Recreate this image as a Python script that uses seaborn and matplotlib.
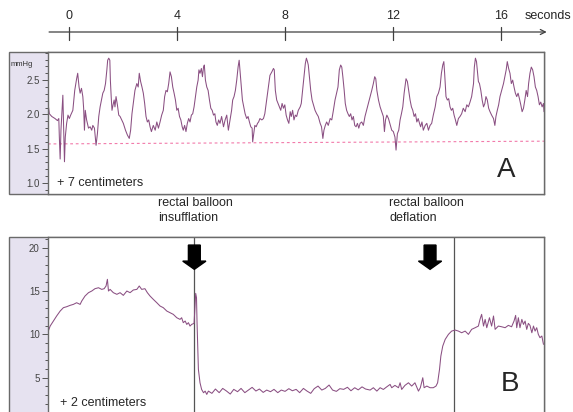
import matplotlib
matplotlib.use("Agg")
import matplotlib.pyplot as plt
import seaborn as sns
from matplotlib.patches import Rectangle, FancyArrow
from matplotlib.ticker import MultipleLocator, FormatStrFormatter

# ---------------- data ----------------
# Panel A: pressure at +7 cm (mmHg) vs time (s)
a_time = [-0.80, -0.73, -0.64, -0.52, -0.43, -0.38, -0.36, -0.33, -0.30, -0.26, -0.23, -0.21, -0.17, -0.14,
          -0.09, -0.04, 0.01, 0.06, 0.14, 0.21, 0.28, 0.32, 0.37, 0.41, 0.46, 0.51, 0.54, 0.57, 0.60, 0.65,
          0.72, 0.78, 0.84, 0.88, 0.94, 0.98, 1.00, 1.05, 1.10, 1.15, 1.20, 1.25, 1.30, 1.35, 1.40, 1.43,
          1.47, 1.51, 1.53, 1.56, 1.59, 1.63, 1.67, 1.70, 1.74, 1.79, 1.84, 1.89, 1.95, 2.01, 2.09, 2.16,
          2.23, 2.28, 2.33, 2.38, 2.44, 2.51, 2.56, 2.60, 2.65, 2.70, 2.75, 2.80, 2.85, 2.90, 2.95, 3.00,
          3.05, 3.12, 3.19, 3.25, 3.31, 3.37, 3.43, 3.49, 3.54, 3.59, 3.64, 3.69, 3.74, 3.79, 3.84, 3.89,
          3.94, 3.99, 4.04, 4.09, 4.14, 4.19, 4.23, 4.28, 4.33, 4.38, 4.43, 4.48, 4.53, 4.58, 4.63, 4.68,
          4.73, 4.78, 4.81, 4.85, 4.90, 4.94, 4.98, 5.01, 5.05, 5.10, 5.15, 5.20, 5.25, 5.30, 5.35, 5.40,
          5.44, 5.49, 5.54, 5.59,
          5.65, 5.72, 5.78, 5.84, 5.90, 5.96, 6.02, 6.06, 6.11, 6.16, 6.21, 6.26, 6.30, 6.33, 6.37, 6.42,
          6.47, 6.52, 6.58, 6.63, 6.68, 6.73, 6.78, 6.80, 6.84, 6.88, 6.93, 6.98, 7.02, 7.07, 7.14, 7.20,
          7.25, 7.30, 7.35, 7.40, 7.44, 7.51, 7.57, 7.60, 7.64, 7.69, 7.74, 7.79, 7.84, 7.89, 7.94, 7.99,
          8.04, 8.09, 8.14, 8.19, 8.23, 8.28, 8.33, 8.38, 8.43, 8.49, 8.56, 8.60, 8.65, 8.70, 8.75, 8.79,
          8.83, 8.86, 8.90, 8.95, 9.00, 9.05, 9.11, 9.17, 9.23, 9.30, 9.35, 9.40, 9.44, 9.49, 9.54, 9.60,
          9.67, 9.73, 9.79, 9.85, 9.91, 9.96, 10.01, 10.06, 10.10, 10.14, 10.19, 10.23, 10.28, 10.33, 10.38,
          10.43, 10.48, 10.53, 10.58, 10.63, 10.68, 10.73, 10.78, 10.84, 10.90, 10.96, 11.02, 11.09, 11.15,
          11.21, 11.27, 11.32, 11.36, 11.40, 11.46, 11.52, 11.58, 11.64, 11.68, 11.72, 11.77, 11.83,
          11.95, 12.01, 12.07, 12.11, 12.16, 12.21, 12.26, 12.31, 12.36, 12.41, 12.44, 12.48, 12.53, 12.58,
          12.63, 12.68, 12.73, 12.78, 12.83, 12.88, 12.93, 12.98, 13.02, 13.07, 13.12, 13.19, 13.25, 13.31,
          13.37, 13.43, 13.49, 13.56, 13.62, 13.68, 13.74, 13.79, 13.84, 13.88, 13.91, 13.96, 14.01, 14.06,
          14.11, 14.16, 14.21, 14.26, 14.31, 14.36, 14.42, 14.48, 14.54, 14.60, 14.67, 14.73, 14.79, 14.85,
          14.91, 14.98, 15.01, 15.05, 15.09, 15.12, 15.16, 15.20, 15.25, 15.30, 15.35, 15.40, 15.44, 15.49,
          15.54, 15.59, 15.65, 15.72, 15.77, 15.81, 15.86, 15.91, 15.96, 16.02, 16.09, 16.14, 16.19, 16.23,
          16.28, 16.33, 16.38, 16.43, 16.48, 16.53, 16.58, 16.63, 16.68, 16.73, 16.78, 16.83, 16.88, 16.93,
          16.98, 17.02, 17.07, 17.12, 17.17, 17.22, 17.27, 17.32, 17.37, 17.42, 17.47, 17.52, 17.57, 17.59]
a_pressure = [2.23, 2.01, 1.97, 1.94, 1.91, 1.94, 1.67, 1.35, 1.77, 2.06, 2.28, 1.97, 1.31, 1.67,
              1.87, 1.99, 1.94, 1.99, 2.06, 2.35, 2.52, 2.60, 2.40, 2.31, 2.38, 2.26, 2.09, 1.77, 2.06, 1.92,
              1.80, 1.82, 1.77, 1.84, 1.80, 1.63, 1.55, 1.72, 1.97, 2.11, 2.21, 2.31, 2.35, 2.45, 2.65, 2.79,
              2.82, 2.79, 2.50, 2.26, 2.06, 2.14, 2.21, 2.11, 2.26, 2.14, 1.99, 1.97, 1.92, 1.87, 1.77, 1.70,
              1.65, 1.77, 2.01, 2.16, 2.35, 2.45, 2.40, 2.60, 2.48, 2.40, 2.31, 2.16, 1.97, 1.89, 1.92, 1.82,
              1.75, 1.84, 1.77, 1.89, 1.80, 1.89, 1.99, 2.06, 2.26, 2.35, 2.33, 2.45, 2.62, 2.55, 2.40, 2.31,
              2.21, 2.06, 2.09, 1.97, 1.92, 1.82, 1.77, 1.84, 1.75, 1.87, 1.94, 1.89, 1.99, 2.01, 2.11, 2.26,
              2.40, 2.50, 2.65, 2.60, 2.67, 2.55, 2.69, 2.72, 2.50, 2.40, 2.35, 2.21, 2.09, 2.06, 1.99, 2.01,
              1.89, 1.84, 1.92, 1.87,
              1.97, 1.82, 1.92, 1.99, 1.77, 1.92, 2.06, 2.21, 2.26, 2.35, 2.50, 2.69, 2.79, 2.65, 2.45, 2.21,
              2.11, 2.01, 1.94, 1.97, 1.89, 1.82, 1.80, 1.60, 1.72, 1.84, 1.82, 1.87, 1.89, 1.94, 1.92, 1.94,
              2.01, 2.16, 2.31, 2.45, 2.57, 2.62, 2.67, 2.65, 2.35, 2.21, 2.16, 2.11, 2.06, 2.16, 2.09, 2.14,
              1.99, 1.92, 1.87, 2.04, 1.97, 2.06, 1.92, 1.99, 1.97, 2.06, 2.11, 2.16, 2.35, 2.55, 2.74, 2.82,
              2.77, 2.72, 2.55, 2.35, 2.21, 2.14, 2.06, 2.01, 1.97, 1.87, 1.82, 1.65, 1.77, 1.84, 1.89, 1.84,
              1.94, 1.92, 2.06, 2.21, 2.31, 2.40, 2.65, 2.72, 2.69, 2.55, 2.35, 2.16, 2.06, 2.01, 1.97,
              2.01, 1.92, 1.97, 1.84, 1.82, 1.87, 1.80, 1.87, 1.89, 1.84, 1.97, 2.06, 2.16, 2.26,
              2.35, 2.45, 2.55, 2.52, 2.35, 2.21, 2.11, 2.04, 1.97, 1.75, 1.92, 1.99, 1.94,
              1.77, 1.75, 1.67, 1.48, 1.72, 1.77, 1.92, 2.01, 2.11, 2.31, 2.40, 2.52, 2.48, 2.35,
              2.21, 2.11, 2.06, 1.97, 2.01, 1.89, 1.94, 1.87, 1.82, 1.89, 1.77, 1.84, 1.87, 1.77,
              1.84, 1.87, 1.99, 2.11, 2.26, 2.31, 2.40, 2.60, 2.72, 2.77, 2.60, 2.26, 2.21, 2.23,
              2.11, 2.06, 2.09, 1.99, 1.92, 1.84, 1.94, 1.97, 2.01, 2.09, 2.04, 2.14, 2.11, 2.18,
              2.26, 2.45, 2.69, 2.82, 2.77, 2.65, 2.48, 2.45, 2.35, 2.21, 2.11, 2.16, 2.26, 2.21,
              2.09, 2.04, 1.99, 1.94, 1.84, 1.97, 2.06, 2.14, 2.26, 2.35, 2.45, 2.55, 2.65, 2.77,
              2.67, 2.60, 2.45, 2.50, 2.40, 2.31, 2.26, 2.31, 2.23, 2.14, 2.04, 2.09, 2.21, 2.35,
              2.26, 2.45, 2.60, 2.69, 2.65, 2.55, 2.40, 2.35, 2.26, 2.14, 2.18, 2.11, 2.16, 2.04]

# dashed baseline in panel A
base_time = [-0.78, 17.59]
base_level = [1.57, 1.61]

# Panel B: pressure at +2 cm (mmHg) vs time (s)
b_time = [-0.77, -0.70, -0.58, -0.46, -0.33, -0.21, -0.09, 0.04, 0.16, 0.28, 0.41, 0.47, 0.59, 0.72,
          0.84, 0.96, 1.09, 1.21, 1.30, 1.37, 1.42, 1.46, 1.52, 1.64, 1.77, 1.89, 2.01, 2.14, 2.26, 2.38,
          2.51, 2.60, 2.69, 2.81, 2.90, 3.00, 3.12, 3.25, 3.37, 3.49, 3.62, 3.74, 3.86, 3.99, 4.11, 4.17,
          4.23, 4.30, 4.36, 4.42, 4.48, 4.54, 4.63, 4.67, 4.69, 4.72, 4.74, 4.77, 4.79, 4.85, 4.91, 4.98,
          5.04, 5.10, 5.16, 5.29, 5.42, 5.56, 5.69, 5.83, 5.97, 6.10, 6.24, 6.37, 6.51, 6.64, 6.78, 6.92,
          7.05, 7.19, 7.32, 7.46, 7.59, 7.73, 7.86, 8.00, 8.14, 8.27, 8.41, 8.54, 8.68, 8.81, 8.95, 9.08,
          9.22, 9.36, 9.49, 9.63, 9.76, 9.90, 10.03, 10.17, 10.31, 10.44, 10.58, 10.71, 10.85, 10.98,
          11.15, 11.27, 11.40, 11.52, 11.64, 11.77, 11.89, 11.95, 12.07, 12.20, 12.26, 12.32, 12.44, 12.57,
          12.69, 12.81, 12.94, 13.01, 13.10, 13.15, 13.25, 13.37, 13.49, 13.59, 13.65, 13.72, 13.77, 13.84,
          13.93, 14.05, 14.17, 14.30, 14.42, 14.54, 14.67, 14.79, 14.91, 15.04, 15.16, 15.22, 15.28, 15.35,
          15.41, 15.47, 15.57, 15.65, 15.72, 15.78, 15.90, 16.02, 16.15, 16.27, 16.39, 16.48, 16.54, 16.58,
          16.64, 16.70, 16.77, 16.83, 16.89, 16.95, 17.01, 17.07, 17.14, 17.20, 17.26, 17.32, 17.38, 17.44,
          17.51, 17.57]
b_pressure = [10.38, 10.96, 11.54, 12.12, 12.69, 13.08, 13.19, 13.35, 13.46, 13.65, 13.46, 13.85, 14.42, 14.81,
              15.00, 15.27, 15.38, 15.19, 15.27, 15.58, 16.35, 15.00, 15.19, 14.81, 14.62, 14.81, 14.50, 15.00, 14.81, 15.12,
              15.19, 15.58, 15.19, 15.27, 14.81, 14.42, 14.04, 13.65, 13.27, 13.08, 12.69, 12.50, 12.31, 11.92, 11.73, 11.92,
              11.35, 11.54, 11.15, 11.35, 10.96, 11.15, 11.27, 13.65, 14.73, 14.23, 11.35, 8.27, 5.96, 4.42, 3.65, 3.27,
              3.46, 3.08, 3.46, 3.20, 3.70, 3.28, 3.77, 3.47, 3.12, 3.66, 3.39, 3.77, 3.28, 3.58, 3.89, 3.47,
              3.70, 3.31, 3.58, 3.39, 3.66, 3.28, 3.58, 3.43, 3.74, 3.50, 3.66, 3.28, 3.77, 3.47, 3.20, 3.74,
              4.04, 3.58, 3.77, 4.16, 3.58, 3.43, 3.74, 3.66, 3.90, 3.50, 3.85, 3.60, 3.95, 3.70,
              3.58, 3.85, 3.46, 3.85, 3.65, 3.96, 4.23, 3.85, 4.12, 3.85, 4.42, 3.65, 4.12, 4.42,
              4.04, 4.42, 3.46, 3.85, 5.00, 3.85, 4.04, 3.85, 3.85, 4.04, 4.42, 5.96, 7.50, 8.65,
              9.42, 10.00, 10.38, 10.50, 10.38, 10.19, 10.38, 10.00, 10.58, 10.77, 10.96, 11.73, 12.31, 10.96,
              11.73, 10.77, 11.92, 10.96, 12.12, 10.58, 10.96, 10.88, 10.77, 11.04, 10.88, 11.54, 12.19, 10.77,
              11.92, 10.77, 11.73, 11.15, 11.54, 10.58, 11.27, 11.04, 10.19, 10.96, 10.38, 10.77, 10.00, 9.62,
              9.81, 8.85]

# events
event_lines = [4.63, 14.26]          # vertical markers in panel B
arrow_times = [4.64, 13.37]          # black arrows in panel B
event_labels = ["rectal balloon\ninsufflation", "rectal balloon\ndeflation"]
sec_ticks = [0, 4, 8, 12, 16]
a_yticks = [1.0, 1.5, 2.0, 2.5]
b_yticks = [5, 10, 15, 20]

# ---------------- style ----------------
sns.set_style("white")
plt.rcParams["font.family"] = ["Liberation Sans", "DejaVu Sans"]

LAV = "#e6e2f0"
EDGE = "#6a6a6a"
TRACE = "#8a4f82"
PINK = "#f27aaa"
DARK = "#404040"

W, H = 573, 412
fig = plt.figure(figsize=(W / 100, H / 100), dpi=100)


def box(x0, y0, x1, y1):
    return [x0 / W, 1 - y1 / H, (x1 - x0) / W, (y1 - y0) / H]


# lavender frames
fig.add_artist(Rectangle((9 / W, 1 - 194 / H), (544 - 9) / W, (194 - 52) / H,
                         transform=fig.transFigure, facecolor=LAV, edgecolor=EDGE, lw=1.0, zorder=0))
fig.add_artist(Rectangle((9 / W, -0.05), (544 - 9) / W, (412 - 237) / H + 0.05,
                         transform=fig.transFigure, facecolor=LAV, edgecolor=EDGE, lw=1.0, zorder=0))

XL = (-0.78, 17.59)


def style_axis(ax, yticks, minor, fmt):
    ax.set_facecolor("white")
    ax.set_xlim(*XL)
    ax.set_xticks([])
    ax.set_xlabel("")
    ax.set_ylabel("")
    ax.set_yticks(yticks)
    ax.yaxis.set_minor_locator(MultipleLocator(minor))
    ax.yaxis.set_major_formatter(FormatStrFormatter(fmt))
    ax.tick_params(axis="y", which="both", left=True, direction="out", color="#555555", width=0.7)
    ax.tick_params(axis="y", which="major", length=4, labelsize=7, labelcolor="#444444", pad=2)
    ax.tick_params(axis="y", which="minor", length=2)
    for s in ax.spines.values():
        s.set_color(EDGE)
        s.set_linewidth(1.0)


# ----- Panel A -----
axA = fig.add_axes(box(48, 52, 544, 194))
axA.set_zorder(2)
axA.plot(base_time, base_level, color=PINK, lw=0.8, linestyle=(0, (2.5, 2.5)))
sns.lineplot(x=a_time, y=a_pressure, ax=axA, color=TRACE, lw=0.75, estimator=None, sort=False)
axA.set_ylim(0.84, 2.91)
style_axis(axA, a_yticks, 0.1, "%.1f")
axA.text(0.018, 0.077, "+ 7 centimeters", transform=axA.transAxes, ha="left", va="center", fontsize=9)
axA.text(0.905, 0.17, "A", transform=axA.transAxes, ha="left", va="center", fontsize=20)
fig.text(11 / W, 1 - 65 / H, "mmHg", fontsize=5.5, ha="left", va="center", color="#333333")

# ----- Panel B -----
axB = fig.add_axes(box(48, 237, 544, 412))
axB.set_zorder(2)
for t in event_lines:
    axB.axvline(t, color="#555555", lw=0.9)
sns.lineplot(x=b_time, y=b_pressure, ax=axB, color=TRACE, lw=0.75, estimator=None, sort=False)
axB.set_ylim(1.05, 21.23)
style_axis(axB, b_yticks, 1, "%d")
axB.spines["bottom"].set_visible(False)
for t in arrow_times:
    axB.add_patch(FancyArrow(t, 20.3, 0, -2.8, width=0.44, head_width=0.86, head_length=0.95,
                             length_includes_head=True, color="black", zorder=5))
axB.text(0.024, 0.053, "+ 2 centimeters", transform=axB.transAxes, ha="left", va="center", fontsize=9)
axB.text(0.912, 0.16, "B", transform=axB.transAxes, ha="left", va="center", fontsize=20)

# event labels between panels
fig.text(158 / W, 1 - 210.5 / H, event_labels[0], ha="left", va="center", fontsize=9, linespacing=1.25)
fig.text(389 / W, 1 - 210.5 / H, event_labels[1], ha="left", va="center", fontsize=9, linespacing=1.25)

# ----- time axis -----
axT = fig.add_axes(box(48, 4, 544, 44))
axT.set_xlim(*XL)
axT.set_ylim(0, 1)
axT.axis("off")
axT.annotate("", xy=(17.69, 0.3), xytext=(-0.74, 0.3),
             arrowprops=dict(arrowstyle="->", color=DARK, lw=0.9, shrinkA=0, shrinkB=0, mutation_scale=9),
             annotation_clip=False)
for t in sec_ticks:
    axT.plot([t, t], [0.1, 0.43], color=DARK, lw=0.9, clip_on=False)
    axT.text(t, 0.7, str(t), ha="center", va="center", fontsize=9)
axT.text(16.89, 0.7, "seconds", ha="left", va="center", fontsize=9)

fig.savefig("out.png", dpi=100)
